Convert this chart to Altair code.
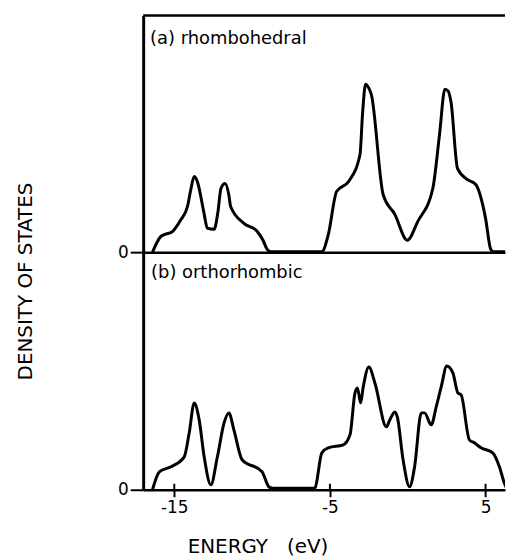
import altair as alt
import pandas as pd

# Energy grid (eV) and density of states (arbitrary units) for each structure
rh_energy = [-16.4, -15.85, -15.1, -14.6, -14.15, -13.95, -13.72, -13.5, -13.4, -13.1,
             -12.87, -12.44, -12.2, -12.0, -11.74, -11.5, -11.38, -10.53, -9.68, -9.3,
             -9.04, -8.8, -5.6, -5.52, -5.1, -4.57, -3.8, -3.07, -2.9, -2.71,
             -2.5, -2.33, -1.58, -0.83, -0.03, 0.65, 1.61, 2.04, 2.39, 2.6,
             2.78, 3.2, 3.84, 4.37, 5.0, 5.33, 5.5, 6.4]
rh_dos = [0, 16, 21, 32, 46, 62, 76, 70, 64, 40,
          24, 23, 40, 64, 69, 58, 46, 29, 21, 12,
          3, 0.5, 0.5, 0.5, 18, 61, 71, 98, 140, 169,
          165, 158, 58, 38, 12, 31, 64, 118, 164, 162,
          151, 84, 73, 68, 34, 3, 0.5, 0.5]

or_energy = [-16.4, -15.96, -15.21, -14.36, -14.04, -13.72, -13.4, -13.08, -12.65, -12.23,
             -11.8, -11.49, -11.17, -10.64, -9.36, -8.93, -8.7, -6.0, -5.95, -5.52,
             -5.1, -4.14, -3.71, -3.39, -3.23, -3.03, -2.86, -2.5, -2.11, -1.37,
             -1.15, -0.83, -0.67, -0.3, 0.12, 0.44, 0.87, 1.08, 1.51, 1.83,
             2.15, 2.51, 2.9, 3.22, 3.43, 3.96, 4.28, 4.71, 5.46, 5.89,
             6.2, 6.4]
or_dos = [0, 18, 23, 33, 57, 87, 70, 33, 5, 33,
          67, 77, 60, 30, 18, 3, 1.5, 1.5, 2, 37,
          42, 45, 55, 97, 102, 87, 103, 123, 107, 63,
          70, 78, 73, 30, 3, 23, 77, 77, 65, 83,
          103, 124, 117, 97, 95, 50, 47, 42, 37, 23,
          7, 0]

energy_ticks = [-15, -5, 5]
panel_labels = ["(a)  rhombohedral", "(b) orthorhombic"]

FONT = "DejaVu Sans"
W = 364
H_TOP = 238
H_BOT = 239
X_DOMAIN = [-17, 6.25]
Y_MAX = 238

rh = pd.DataFrame({"energy": rh_energy, "dos": rh_dos})
orth = pd.DataFrame({"energy": or_energy, "dos": or_dos})
ticks = pd.DataFrame({"energy": energy_ticks})

x_scale = alt.Scale(domain=X_DOMAIN, nice=False, zero=False)
y_scale = alt.Scale(domain=[0, Y_MAX], nice=False)

line_style = dict(color="black", strokeWidth=3, interpolate="monotone", clip=True)

# --- top panel: rhombohedral ---
top_curve = alt.Chart(rh).mark_line(**line_style).encode(
    x=alt.X("energy:Q", scale=x_scale,
            axis=alt.Axis(title=None, labels=False, ticks=False, grid=False,
                          domainColor="black", domainWidth=2.5)),
    y=alt.Y("dos:Q", scale=y_scale,
            axis=alt.Axis(title="DENSITY OF STATES", values=[0], grid=False,
                          domainColor="black", domainWidth=3,
                          tickColor="black", tickWidth=2, tickSize=13,
                          labelFont=FONT, labelFontSize=17, labelColor="black",
                          labelPadding=2,
                          titleFont=FONT, titleFontSize=20, titleFontWeight="normal",
                          titleColor="black", titleAngle=270,
                          titleX=-118.5, titleY=267,
                          titleAlign="center", titleBaseline="middle")),
)

top_border = alt.Chart(pd.DataFrame({"k": [0]})).mark_rule(
    color="black", strokeWidth=2.5
).encode(x=alt.value(0), x2=alt.value(W), y=alt.value(0))

label_a = alt.Chart(pd.DataFrame({"label": [panel_labels[0]]})).mark_text(
    align="left", baseline="alphabetic", font=FONT, fontSize=18, color="black"
).encode(x=alt.value(7), y=alt.value(29), text="label:N")

top = alt.layer(top_curve, top_border, label_a).properties(width=W, height=H_TOP)

# --- bottom panel: orthorhombic ---
bot_curve = alt.Chart(orth).mark_line(**line_style).encode(
    x=alt.X("energy:Q", scale=x_scale,
            axis=alt.Axis(title="ENERGY\u00a0\u00a0\u00a0(eV)", values=energy_ticks,
                          labelExpr="'' + datum.value", grid=False,
                          domainColor="black", domainWidth=2.5,
                          tickColor="black", tickWidth=2, tickSize=7,
                          labelFont=FONT, labelFontSize=17, labelColor="black",
                          labelPadding=3,
                          titleFont=FONT, titleFontSize=20, titleFontWeight="normal",
                          titleColor="black", titleX=115, titleY=63,
                          titleAlign="center", titleBaseline="alphabetic")),
    y=alt.Y("dos:Q", scale=y_scale,
            axis=alt.Axis(title=None, values=[0], grid=False,
                          domainColor="black", domainWidth=3,
                          tickColor="black", tickWidth=2, tickSize=13,
                          labelFont=FONT, labelFontSize=17, labelColor="black",
                          labelPadding=2)),
)

# upward half of the energy tick marks
tick_up = alt.Chart(ticks).mark_rule(color="black", strokeWidth=2).encode(
    x=alt.X("energy:Q", scale=x_scale),
    y=alt.value(H_BOT),
    y2=alt.value(H_BOT - 6),
)

label_b = alt.Chart(pd.DataFrame({"label": [panel_labels[1]]})).mark_text(
    align="left", baseline="alphabetic", font=FONT, fontSize=18, color="black"
).encode(x=alt.value(8), y=alt.value(26), text="label:N")

bottom = alt.layer(bot_curve, tick_up, label_b).properties(width=W, height=H_BOT)

chart = alt.vconcat(top, bottom, spacing=0, bounds="flush").properties(
    padding={"left": 15, "top": 12, "right": 0, "bottom": 0},
    background="white",
).configure_view(stroke=None)

chart.save("out.html", embed_options={"renderer": "svg", "actions": False})
